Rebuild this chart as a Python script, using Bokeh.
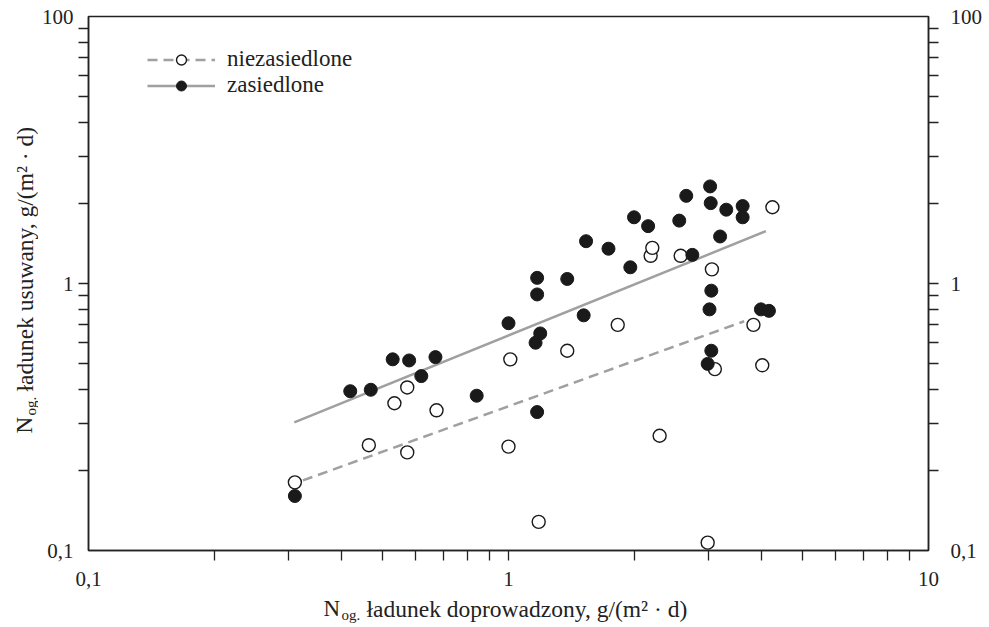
import math
from bokeh.plotting import figure
from bokeh.layouts import row, column
from bokeh.models import FixedTicker, LogAxis, Range1d, Label, Legend, LegendItem
from bokeh.embed import file_html
from bokeh.resources import INLINE

# ---- data ----
# zasiedlone (filled markers)
x_zas = [0.31, 0.42, 0.47, 0.53, 0.58, 0.62, 0.67, 0.84, 1.00, 1.17, 1.17, 1.19,
         1.16, 1.17, 1.38, 1.51, 1.53, 1.73, 1.95, 1.99, 2.15, 2.55, 2.65, 2.74,
         3.02, 3.03, 3.04, 3.01, 3.04, 2.98, 3.19, 3.30, 3.61, 3.61, 3.99, 4.17]
y_zas = [0.16, 0.395, 0.40, 0.52, 0.515, 0.45, 0.53, 0.38, 0.71, 1.05, 0.91, 0.65,
         0.60, 0.33, 1.04, 0.76, 1.44, 1.35, 1.15, 1.77, 1.64, 1.72, 2.13, 1.28,
         2.31, 2.00, 0.94, 0.80, 0.56, 0.50, 1.50, 1.89, 1.95, 1.77, 0.80, 0.79]
# niezasiedlone (open markers)
x_nie = [0.31, 0.465, 0.535, 0.574, 0.574, 0.674, 1.00, 1.01, 1.18, 1.38, 1.82,
         2.18, 2.20, 2.29, 2.57, 2.98, 3.05, 3.10, 3.83, 4.02, 4.25]
y_nie = [0.18, 0.248, 0.356, 0.408, 0.233, 0.335, 0.245, 0.52, 0.128, 0.56, 0.70,
         1.27, 1.36, 0.269, 1.27, 0.107, 1.13, 0.478, 0.70, 0.494, 1.93]
# regression lines (end points)
fit_zas_x = [0.309, 4.10]
fit_zas_y = [0.302, 1.57]
fit_nie_x = [0.324, 3.64]
fit_nie_y = [0.183, 0.722]

# ticks
x_major = [0.1, 1, 10]
x_minor = [0.2, 0.3, 0.4, 0.5, 0.6, 0.7, 0.8, 0.9, 1, 2, 3, 4, 5, 6, 7, 8, 9]
x_tick_labels = {0.1: "0,1", 1: "1", 10: "10"}
y_major = [0.1, 1, 10]
y_minor = [0.2, 0.3, 0.4, 0.5, 0.6, 0.7, 0.8, 0.9, 1, 2, 3, 4, 5, 6, 7, 8, 9]
y_tick_labels = {0.1: "0,1", 1: "1", 10: "100"}

legend_labels = ["niezasiedlone", "zasiedlone"]
x_title = ["N", "og.", "ładunek doprowadzony, g/(m² · d)"]
y_title = ["N", "og.", "ładunek usuwany, g/(m² · d)"]

FONT = "Liberation Serif"
INK = "#1a1a1a"
GREY = "#a0a0a0"
TXT = "#222222"

TOTAL_W, TOTAL_H = 988, 626
LEFT_W = 38
MAIN_H = 596
MAIN_W = TOTAL_W - LEFT_W

p = figure(width=MAIN_W, height=MAIN_H, x_axis_type="log", y_axis_type="log",
           x_range=Range1d(0.1, 10), y_range=Range1d(0.1, 10),
           output_backend="svg", toolbar_location=None, frame_align=False,
           min_border_left=47, min_border_right=60, min_border_top=16,
           min_border_bottom=46)
p.grid.visible = False
p.outline_line_color = TXT
p.outline_line_width = 1.5
p.background_fill_color = "white"
p.border_fill_color = "white"


def style_axis(ax, major, minor, labels, standoff):
    ax.ticker = FixedTicker(ticks=major, minor_ticks=minor)
    ax.major_label_overrides = labels
    ax.axis_line_color = TXT
    ax.axis_line_width = 1.5
    ax.major_tick_out = 0
    ax.major_tick_in = 0
    ax.minor_tick_out = 10
    ax.minor_tick_in = 0
    ax.minor_tick_line_color = TXT
    ax.minor_tick_line_width = 1.3
    ax.major_label_text_font = FONT
    ax.major_label_text_font_size = "21px"
    ax.major_label_text_color = TXT
    ax.major_label_standoff = standoff


style_axis(p.xaxis[0], x_major, x_minor, x_tick_labels, 11)
style_axis(p.yaxis[0], y_major, y_minor, y_tick_labels, 5)
right = LogAxis()
style_axis(right, y_major, y_minor, y_tick_labels, 12)
p.add_layout(right, "right")

l_nie = p.line(fit_nie_x, fit_nie_y, line_color=GREY, line_width=2.5, line_dash="10 6")
l_zas = p.line(fit_zas_x, fit_zas_y, line_color=GREY, line_width=2.5)
s_nie = p.scatter(x_nie, y_nie, marker="circle", size=13, fill_color="white",
                  line_color=INK, line_width=1.4)
s_zas = p.scatter(x_zas, y_zas, marker="circle", size=13, fill_color=INK,
                  line_color=INK, line_width=1.0)

legend = Legend(items=[LegendItem(label=legend_labels[0], renderers=[l_nie, s_nie]),
                       LegendItem(label=legend_labels[1], renderers=[l_zas, s_zas])],
                location=(59, 452), padding=0, spacing=0, margin=0,
                glyph_width=68, glyph_height=25, label_height=25, label_standoff=12,
                label_text_font=FONT, label_text_font_size="23px",
                label_text_color=TXT,
                border_line_color=None, background_fill_alpha=0)
p.add_layout(legend)


def blank(w, h):
    f = figure(width=w, height=h, x_range=Range1d(0, 1), y_range=Range1d(0, 1),
               output_backend="svg", toolbar_location=None, min_border=0,
               frame_align=False, x_axis_location=None, y_axis_location=None)
    f.grid.visible = False
    f.outline_line_color = None
    f.background_fill_color = "white"
    f.border_fill_color = "white"
    return f


def lab(fig, text, x, y, size, angle=0.0):
    fig.add_layout(Label(x=x, y=y, x_units="screen", y_units="screen", text=text,
                         angle=angle, text_font=FONT, text_font_size=size,
                         text_color=TXT, text_align="left",
                         text_baseline="alphabetic"))


# bottom title (below the main plot)
bottom = blank(MAIN_W, TOTAL_H - MAIN_H)
lab(bottom, x_title[0], 285, 18, "23px")
lab(bottom, x_title[1], 303, 12, "15px")
lab(bottom, x_title[2], 328, 18, "23.5px")

# left title (rotated)
left = blank(LEFT_W, TOTAL_H)
lab(left, y_title[0], 24, 193, "23px", math.pi / 2)
lab(left, y_title[1], 30, 211, "15px", math.pi / 2)
lab(left, y_title[2], 24, 235, "23.5px", math.pi / 2)

layout = row(left, column(p, bottom, spacing=0), spacing=0)

open("out.html", "w").write(file_html(layout, INLINE))
